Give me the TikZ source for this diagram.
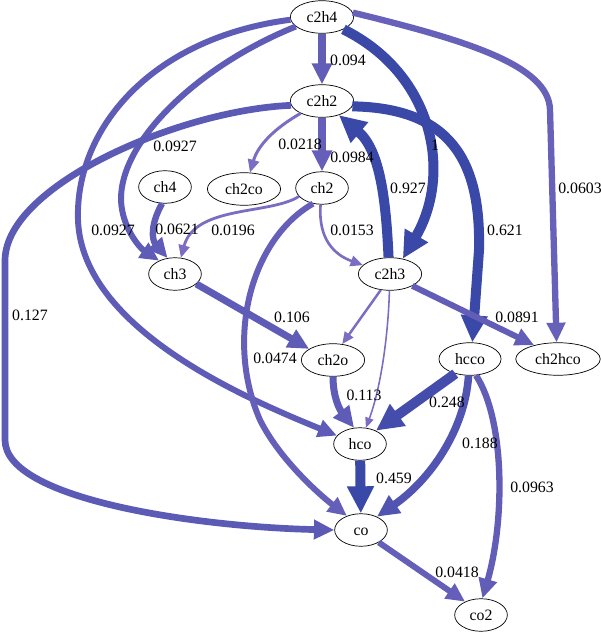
\documentclass[tikz,border=0pt]{standalone}
\usepackage{fontspec}
\setmainfont{Liberation Serif}
\usetikzlibrary{arrows.meta,shapes.geometric}
\definecolor{elight}{RGB}{124,108,194}
\definecolor{edark}{RGB}{58,72,168}
\tikzset{
	species/.style={ellipse, draw, thin, fill=white, minimum width=30pt, minimum height=18.5pt, text height=6.3pt, text depth=0pt, inner xsep=4pt, inner ysep=3.4pt, font=\fontsize{9}{10}\selectfont},
	wlabel/.style={inner sep=0pt, font=\fontsize{9}{10}\selectfont},
	flow/.style 2 args={line width=#1pt, draw=edark!#2!elight, -{Triangle[length=4pt 2, width=3pt 2]}}
}
\begin{document}
\begin{tikzpicture}[x=0.02cm, y=-0.02cm]
	\useasboundingbox (0,0) rectangle (600,634);
	% species
	\foreach \n/\x/\y in {c2h4/322/17, c2h2/322/101, ch4/165/187, ch2co/244/189, ch2/322/188, ch3/175/274, c2h3/390/274, ch2o/333/360, hcco/470/359, ch2hco/558/359, hco/360/444, co/361/530, co2/481/615}
		\node[species] (\n) at (\x,\y) {\n};
	% from c2h4
	\draw[flow={4}{40}] (c2h4) -- (c2h2);
	\draw[flow={5.7}{100}] (c2h4.-30) .. controls (435,75) and (452,175) .. (c2h3.50);
	\draw[flow={3.6}{30}] (c2h4.8) .. controls (465,40) and (549,65) .. (550,110) -- (ch2hco.95);
	\draw[flow={3.4}{45}] (c2h4.200) .. controls (200,65) and (120,140) .. (121,200) .. controls (122,228) and (140,248) .. (ch3.140);
	\draw[flow={3.4}{45}] (c2h4.185) .. controls (150,38) and (75,130) .. (78,220) .. controls (82,330) and (250,400) .. (hco.160);
	% from c2h2
	\draw[flow={3.8}{50}] (c2h2.188) .. controls (180,110) and (6,185) .. (5,260) -- (5,440) .. controls (5,500) and (200,527) .. (co.west);
	\draw[flow={1.7}{0}] (c2h2.210) .. controls (275,128) and (258,145) .. (ch2co.70);
	\draw[flow={4}{35}] (c2h2) -- (ch2);
	\draw[flow={5.7}{100}] (c2h2.-10) .. controls (450,108) and (481,160) .. (479,250) -- (hcco.82);
	\draw[flow={5.7}{100}] (c2h3.95) .. controls (386,200) and (380,150) .. (c2h2.-40);
	% ch4, ch2
	\draw[flow={3.6}{45}] (ch4.-100) .. controls (150,225) and (152,240) .. (ch3.115);
	\draw[flow={1.6}{0}] (ch2.200) .. controls (270,215) and (195,205) .. (ch3.70);
	\draw[flow={1.5}{0}] (ch2.-95) .. controls (318,240) and (335,255) .. (c2h3.162);
	\draw[flow={3.4}{35}] (ch2.-120) .. controls (250,240) and (225,340) .. (260,420) .. controls (280,460) and (320,495) .. (co.135);
	% ch3, c2h3
	\draw[flow={4}{45}] (ch3.-25) -- (ch2o.155);
	\draw[flow={1.4}{0}] (c2h3.-120) -- (ch2o.60);
	\draw[flow={0.9}{0}] (c2h3.-92) .. controls (388,340) and (380,390) .. (hco.70);
	\draw[flow={3.4}{40}] (c2h3.-28) -- (ch2hco.150);
	% lower part
	\draw[flow={4}{45}] (ch2o.-90) .. controls (333,398) and (340,410) .. (hco.110);
	\draw[flow={5.7}{85}] (hcco.-135) -- (hco.40);
	\draw[flow={4.3}{65}] (hcco.-95) .. controls (465,430) and (430,480) .. (co.40);
	\draw[flow={3.6}{40}] (hcco.-70) .. controls (505,420) and (505,520) .. (co2.85);
	\draw[flow={5.7}{100}] (hco) -- (co);
	\draw[flow={3.4}{35}] (co.-35) -- (co2.140);
	% weights
	\foreach \t/\x/\y [count=\i] in {0.094/348/60, 1/435/145, 0.0603/580/188, 0.0927/113/230, 0.0927/175/146, 0.127/30/315, 0.0218/300/144, 0.0984/352/157, 0.621/505/230, 0.927/408/188, 0.0621/177/229, 0.0196/233/230, 0.0153/352/230, 0.0474/275/358, 0.106/292/317, 0.0891/517/317, 0.113/364/395, 0.248/447/402, 0.188/480/443, 0.0963/532/487, 0.459/394/478, 0.0418/457/572}
		\node[wlabel] (w\i) at (\x,\y) {\t};
\end{tikzpicture}
\end{document}
